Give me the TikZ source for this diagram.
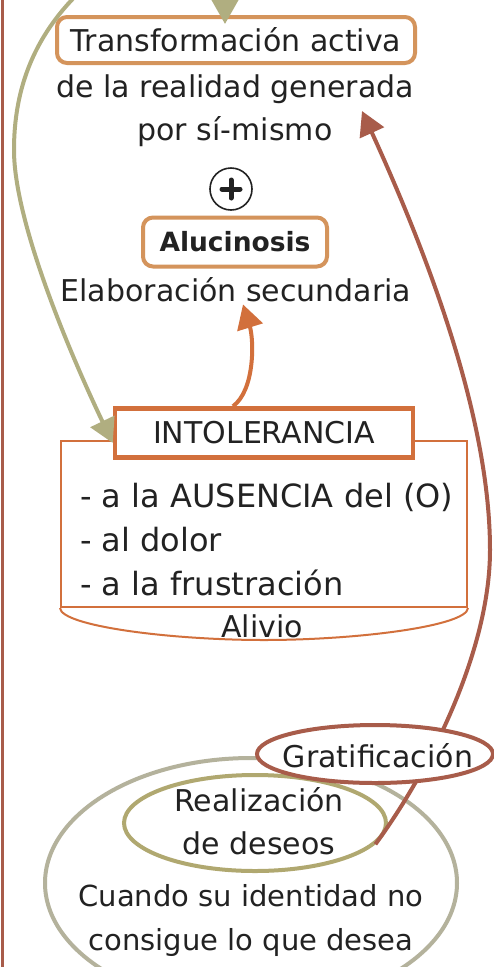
\documentclass[tikz,border=0pt]{standalone}
\usepackage{fontspec}
\setmainfont{DejaVu Sans}
\usetikzlibrary{arrows.meta,shapes.geometric}
\definecolor{tan}{HTML}{D4945C}
\definecolor{orng}{HTML}{D2703C}
\definecolor{olv}{HTML}{B0AE80}
\definecolor{brwn}{HTML}{A85C4A}
\definecolor{graykh}{HTML}{B4B29C}
\definecolor{olvring}{HTML}{B0A870}
\definecolor{ink}{HTML}{222222}
\tikzset{
  txt/.style={text=ink,font=\fontsize{30}{43}\selectfont,inner sep=0pt,align=center},
  tanbox/.style={txt,draw=tan,line width=4pt,rounded corners=10pt},
  intolbox/.style={txt,draw=orng,line width=4.5pt,fill=white},
  oarrow/.style={draw=olv,line width=4pt,-{Triangle[length=24pt,width=26pt]}},
  rarrow/.style={draw=orng,line width=4pt,-{Triangle[length=24pt,width=26pt]}},
  barrow/.style={draw=brwn,line width=4pt,-{Triangle[length=24pt,width=26pt]}},
  ringnode/.style={ellipse,inner sep=0pt,line width=4pt}
}
\begin{document}
\begin{tikzpicture}[x=1pt,y=-1pt]
\useasboundingbox[fill=white] (0,0) rectangle (493,967);
% left border line
\draw[brwn,line width=3pt] (2,0) -- (2,967);
% top area
\node[tanbox,minimum width=358pt,minimum height=46pt] (trans) at (236,40) {Transformación activa};
\node[txt] (trans2) at (235,111) {de la realidad generada\\por sí-mismo};
\node[circle,draw=ink,line width=1.6pt,minimum size=42pt,inner sep=0pt,
  path picture={\draw[ink,line width=5pt,line cap=round]
     ([xshift=-9pt]path picture bounding box.center) -- ([xshift=9pt]path picture bounding box.center)
     ([yshift=-9pt]path picture bounding box.center) -- ([yshift=9pt]path picture bounding box.center);}] (plus) at (231,189) {};
\node[tanbox,minimum width=184pt,minimum height=49pt,font=\fontsize{26.5}{43}\selectfont\bfseries] (aluc) at (235,242) {Alucinosis};
\node[txt] (elab) at (236,290) {Elaboración secundaria};
% intolerancia container
\node[draw=orng,line width=2pt,minimum width=406pt,minimum height=166pt,inner sep=0pt] (cont) at (264,524) {};
\draw[orng,line width=2pt] (cont.south west) .. controls (61,626) and (170,640) .. (264,640)
   .. controls (358,640) and (467,626) .. (cont.south east);
\node[intolbox,minimum width=298pt,minimum height=49pt] (intol) at (264,433) {INTOLERANCIA};
\node[txt,align=left,anchor=west,font=\fontsize{32}{44}\selectfont] (list) at (80,540) {- a la AUSENCIA del (O)\\- al dolor\\- a la frustración};
\node[txt] (alivio) at (262,626) {Alivio};
% bottom ellipses
\node[ringnode,draw=graykh,minimum width=412pt,minimum height=250pt] (big) at (251,883) {};
\node[txt,font=\fontsize{29}{44}\selectfont] (cuando) at (251,920) {Cuando su identidad no\\consigue lo que desea};
\node[ringnode,draw=olvring,minimum width=262pt,minimum height=96pt] (real) at (255,823) {};
\node[txt] (realtxt) at (259,821) {Realización\\de deseos};
% brown arrow
\draw[barrow] (real.-10) .. controls (430,770) and (490,650) .. (490,550)
   .. controls (490,420) and (430,260) .. ([xshift=127pt]trans2.center);
\node[ringnode,draw=brwn,fill=white,minimum width=236pt,minimum height=58pt] (grat) at (375,754) {};
\node[txt] (grattxt) at (378,756) {Gratificación};
% olive arrows from a source above the picture
\coordinate (src) at (105,-30);
\draw[oarrow] (src) .. controls (40,20) and (14,80) .. (14,150)
   .. controls (14,230) and (83,381) .. ([yshift=-10pt]intol.west);
\draw[oarrow,shorten >=-9pt] (src) .. controls (110,-90) and (225,-90) .. ([xshift=-11pt]trans.north);
% orange arrow
\draw[rarrow] ([xshift=-31pt]intol.north) .. controls (255,390) and (254,340) .. ([xshift=7pt,yshift=-2pt]elab.south);
\end{tikzpicture}
\end{document}
